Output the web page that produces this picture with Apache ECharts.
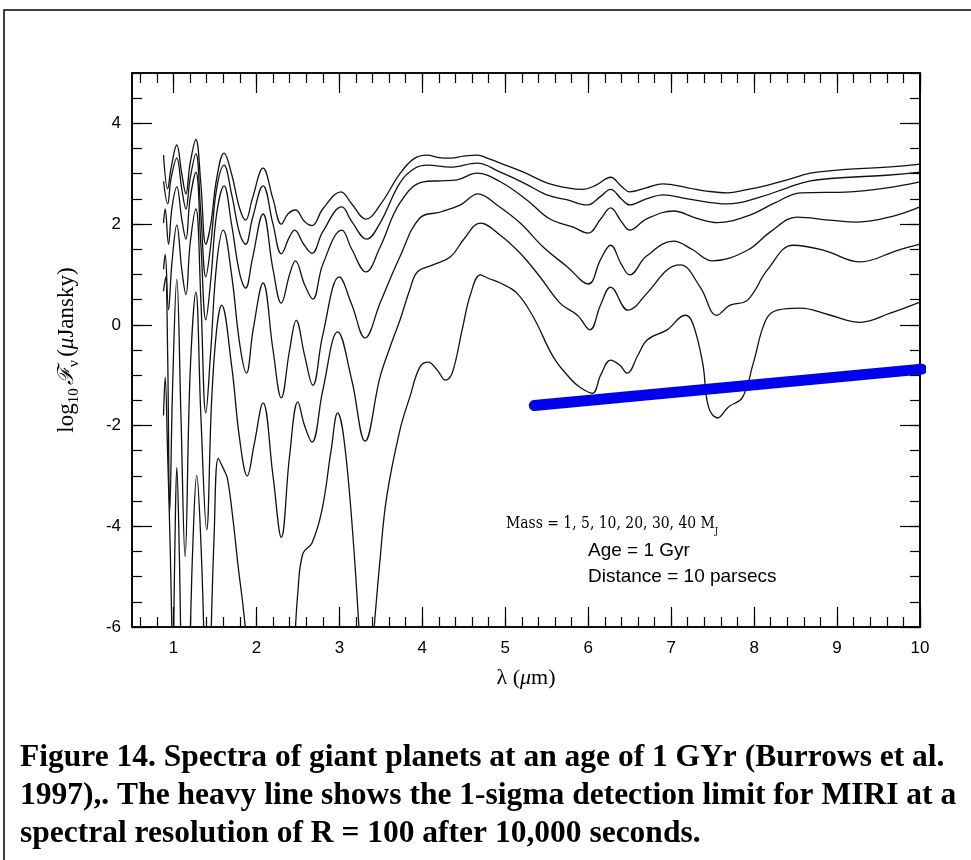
<!DOCTYPE html>
<html>
<head>
<meta charset="UTF-8">
<title>Spectra of giant planets at 1 Gyr</title>
<script src="https://cdn.jsdelivr.net/npm/echarts@6/dist/echarts.min.js"></script>
<style>
  html, body { margin: 0; padding: 0; background: #fff; }
  #chart { width: 971px; height: 860px; }
</style>
</head>
<body>
<div id="chart"></div>
<script>
// wavelength (micron), log10 flux (microJansky)
var m40 = [[0.88,3.37],[0.93,2.7],[0.97,3.1],[1.04,3.57],[1.1,3.0],[1.15,2.6],[1.2,3.2],[1.27,3.68],[1.33,2.8],[1.39,1.6],[1.45,2.0],[1.52,2.9],[1.61,3.41],[1.7,3.0],[1.8,2.3],[1.87,2.08],[1.95,2.5],[2.08,3.11],[2.2,2.5],[2.3,2.0],[2.38,2.2],[2.47,2.28],[2.58,2.05],[2.67,1.97],[2.8,2.3],[3.02,2.64],[3.15,2.4],[3.32,2.1],[3.5,2.4],[3.73,3.0],[3.9,3.3],[4.06,3.37],[4.2,3.32],[4.34,3.31],[4.5,3.35],[4.66,3.37],[4.8,3.3],[4.94,3.21],[5.22,3.03],[5.5,2.82],[5.75,2.72],[5.94,2.69],[6.1,2.78],[6.27,2.93],[6.4,2.75],[6.5,2.64],[6.7,2.72],[6.9,2.8],[7.2,2.72],[7.45,2.65],[7.68,2.62],[7.9,2.68],[8.08,2.74],[8.4,2.88],[8.68,3.01],[9.16,3.09],[9.6,3.13],[10,3.19]];
var m30 = [[0.88,2.85],[0.93,2.4],[0.97,2.9],[1.04,3.31],[1.1,2.7],[1.15,2.3],[1.2,2.9],[1.27,3.4],[1.33,2.2],[1.39,0.95],[1.45,1.6],[1.52,2.7],[1.61,3.17],[1.7,2.6],[1.8,1.8],[1.87,1.6],[1.95,2.1],[2.08,2.76],[2.2,2.0],[2.3,1.41],[2.4,1.75],[2.46,1.88],[2.57,1.6],[2.67,1.42],[2.8,1.85],[3.03,2.34],[3.15,2.05],[3.33,1.7],[3.49,2.02],[3.73,2.82],[3.9,3.1],[4.06,3.17],[4.34,3.13],[4.66,3.21],[4.94,3.03],[5.22,2.82],[5.5,2.58],[5.75,2.48],[5.99,2.38],[6.15,2.55],[6.27,2.69],[6.4,2.5],[6.5,2.38],[6.7,2.5],[6.9,2.58],[7.2,2.5],[7.68,2.4],[8.08,2.54],[8.4,2.72],[8.68,2.86],[9.16,2.93],[9.6,2.97],[10,3.03]];
var m20 = [[0.88,2.02],[0.9,2.3],[0.94,1.6],[0.98,2.3],[1.04,2.74],[1.1,2.1],[1.15,1.7],[1.2,2.5],[1.27,3.03],[1.33,1.6],[1.39,0.1],[1.45,0.9],[1.52,2.2],[1.61,2.76],[1.7,2.0],[1.8,1.0],[1.87,0.73],[1.95,1.3],[2.08,2.2],[2.2,1.1],[2.3,0.43],[2.4,1.0],[2.47,1.27],[2.58,0.8],[2.68,0.51],[2.8,1.2],[3.03,1.88],[3.15,1.5],[3.32,1.05],[3.49,1.54],[3.73,2.42],[4.01,2.84],[4.22,2.86],[4.42,2.88],[4.66,3.01],[4.94,2.84],[5.26,2.48],[5.54,2.1],[5.82,1.94],[6.0,1.82],[6.15,2.1],[6.27,2.32],[6.4,2.05],[6.5,1.88],[6.7,2.1],[7.03,2.26],[7.3,2.12],[7.56,2.03],[7.95,2.18],[8.25,2.42],[8.56,2.62],[9.16,2.64],[9.6,2.72],[10,2.84]];
var m10 = [[0.88,1.1],[0.9,1.4],[0.94,0.3],[0.98,1.2],[1.04,1.98],[1.1,1.1],[1.15,0.6],[1.2,1.6],[1.27,2.3],[1.33,0.5],[1.39,-1.75],[1.45,-0.5],[1.52,1.2],[1.6,1.88],[1.7,1.0],[1.8,-0.4],[1.88,-0.96],[1.96,-0.1],[2.08,0.83],[2.2,-0.5],[2.3,-1.45],[2.4,-0.5],[2.48,0.09],[2.58,-0.6],[2.68,-1.2],[2.8,-0.2],[3.0,0.95],[3.15,0.4],[3.31,-0.26],[3.49,0.43],[3.73,1.35],[3.97,2.12],[4.22,2.24],[4.46,2.38],[4.67,2.6],[4.9,2.38],[5.18,2.02],[5.46,1.54],[5.75,1.15],[6.0,0.81],[6.15,1.3],[6.27,1.58],[6.4,1.2],[6.5,0.99],[6.7,1.36],[7.03,1.66],[7.25,1.5],[7.5,1.27],[7.92,1.48],[8.2,1.85],[8.52,2.14],[8.9,2.08],[9.25,2.04],[9.68,2.16],[10,2.34]];
var m5 = [[0.88,0.67],[0.905,0.95],[0.93,-0.6],[0.955,-3.7],[0.99,-1.2],[1.04,0.9],[1.09,-1.8],[1.14,-4.6],[1.2,-1.0],[1.27,0.65],[1.33,-1.8],[1.4,-4.07],[1.46,-1.5],[1.52,-0.1],[1.58,0.39],[1.7,-0.8],[1.8,-2.3],[1.89,-3.0],[1.97,-2.4],[2.08,-1.55],[2.2,-3.0],[2.3,-4.22],[2.4,-2.6],[2.5,-1.53],[2.58,-2.0],[2.67,-2.33],[2.8,-1.3],[2.98,-0.14],[3.15,-1.1],[3.31,-2.31],[3.49,-1.04],[3.62,-0.4],[3.73,0.09],[3.85,0.7],[3.94,1.05],[4.13,1.19],[4.34,1.35],[4.5,1.7],[4.7,2.02],[4.94,1.78],[5.18,1.42],[5.42,0.95],[5.66,0.43],[5.87,0.19],[6.02,-0.1],[6.15,0.4],[6.27,0.75],[6.48,0.29],[6.71,0.63],[6.95,1.09],[7.11,1.19],[7.35,0.75],[7.55,0.19],[7.71,0.39],[7.92,0.49],[8.16,1.09],[8.47,1.58],[8.84,1.48],[9.28,1.25],[9.73,1.48],[10,1.6]];
var m1 = [[0.88,-1.8],[0.9,-1.04],[0.93,-2.6],[0.96,-4.4],[0.985,-6.4],null,
  [1.0,-6.4],[1.02,-4.1],[1.04,-2.83],[1.065,-4.1],[1.09,-6.4],null,
  [1.2,-6.4],[1.235,-4.3],[1.28,-2.99],[1.33,-4.3],[1.37,-6.4],null,
  [1.45,-6.4],[1.49,-4.2],[1.54,-2.65],[1.6,-2.85],[1.65,-3.05],[1.72,-3.9],[1.78,-4.8],[1.84,-5.6],[1.89,-6.4],null,
  [2.46,-6.4],[2.5,-5.3],[2.56,-4.54],[2.67,-4.33],[2.79,-3.68],[2.9,-2.5],[2.98,-1.75],[3.05,-2.2],[3.15,-3.9],[3.25,-6.4],null,
  [3.4,-6.4],[3.49,-4.67],[3.57,-3.42],[3.73,-2.09],[3.85,-1.43],[3.97,-0.84],[4.07,-0.74],[4.18,-0.9],[4.28,-1.1],[4.36,-0.96],[4.48,-0.1],[4.58,0.6],[4.7,0.99],[4.8,0.92],[4.94,0.83],[5.14,0.63],[5.34,0.15],[5.58,-0.64],[5.78,-1.06],[5.9,-1.24],[6.05,-1.36],[6.15,-1.0],[6.27,-0.7],[6.38,-0.8],[6.47,-0.96],[6.6,-0.6],[6.71,-0.3],[6.95,-0.1],[7.17,0.19],[7.26,0.03],[7.38,-0.76],[7.45,-1.63],[7.56,-1.85],[7.69,-1.63],[7.86,-1.44],[7.99,-0.76],[8.14,0.09],[8.28,0.29],[8.56,0.33],[8.9,0.2],[9.28,0.05],[9.64,0.23],[10,0.45]];
// MIRI 1-sigma detection limit (heavy line)
var miriLimit = [[5.35,-1.6],[10.02,-0.88]];

var xLabels = [1, 2, 3, 4, 5, 6, 7, 8, 9, 10];
var yLabels = [-6, -4, -2, 0, 2, 4];

var xMinor = [];
for (var i = 3; i <= 50; i++) { xMinor.push(Math.round(i * 2) / 10); }
var yMinor = [];
for (var j = -12; j <= 10; j++) { yMinor.push(j / 2); }

var chart = echarts.init(document.getElementById('chart'));

function axisDef(dim, pos, ticks, len, labels) {
  return {
    type: 'value', position: pos,
    min: dim === 'x' ? 0.5 : -6, max: dim === 'x' ? 10 : 5,
    axisLine: { show: true, onZero: false, lineStyle: { color: '#000', width: 1.6 } },
    axisTick: { show: true, inside: true, length: len, customValues: ticks, lineStyle: { color: '#000', width: 1.2 } },
    axisLabel: labels ? { show: true, customValues: ticks, margin: dim === 'x' ? 13 : 11, color: '#000', fontFamily: 'Liberation Sans', fontSize: 17 } : { show: false },
    splitLine: { show: false }
  };
}

var xAxes = [
  axisDef('x', 'bottom', xLabels, 20, true),
  axisDef('x', 'bottom', xMinor, 10, false),
  axisDef('x', 'top', xLabels, 20, false),
  axisDef('x', 'top', xMinor, 10, false)
];
xAxes[0].name = '{n|λ (}{i|μ}{n|m)}';
xAxes[0].nameLocation = 'middle';
xAxes[0].nameGap = 40;
xAxes[0].nameTextStyle = {
  rich: {
    n: { fontFamily: 'Liberation Serif', fontSize: 22, color: '#000' },
    i: { fontFamily: 'Liberation Serif', fontStyle: 'italic', fontSize: 22, color: '#000' }
  }
};

var yAxes = [
  axisDef('y', 'left', yLabels, 20, true),
  axisDef('y', 'left', yMinor, 10, false),
  axisDef('y', 'right', yLabels, 20, false),
  axisDef('y', 'right', yMinor, 10, false)
];
yAxes[0].name = '{n|log}{s|10} {f|ℱ}{s|ν} {n|(}{i|μ}{n|Jansky)}';
yAxes[0].nameLocation = 'middle';
yAxes[0].nameGap = 50;
yAxes[0].nameRotate = 90;
yAxes[0].nameTextStyle = {
  rich: {
    n: { fontFamily: 'Liberation Serif', fontSize: 23, color: '#000', lineHeight: 30, verticalAlign: 'middle' },
    i: { fontFamily: 'Liberation Serif', fontStyle: 'italic', fontSize: 23, color: '#000', lineHeight: 30, verticalAlign: 'middle' },
    f: { fontFamily: 'DejaVu Serif', fontStyle: 'italic', fontSize: 22, color: '#000', lineHeight: 30, verticalAlign: 'middle' },
    s: { fontFamily: 'Liberation Serif', fontSize: 15, color: '#000', lineHeight: 30, verticalAlign: 'bottom' }
  }
};

function spectrum(name, data) {
  return {
    name: name, type: 'line', xAxisIndex: 0, yAxisIndex: 0,
    data: data, smooth: 0.4, symbol: 'none', connectNulls: false,
    lineStyle: { color: '#111', width: 1.3 },
    silent: true
  };
}

var option = {
  animation: false,
  backgroundColor: '#fff',
  grid: { left: 132, right: 51, top: 73, bottom: 233 },
  xAxis: xAxes,
  yAxis: yAxes,
  series: [
    spectrum('40 MJ', m40),
    spectrum('30 MJ', m30),
    spectrum('20 MJ', m20),
    spectrum('10 MJ', m10),
    spectrum('5 MJ', m5),
    spectrum('1 MJ', m1),
    {
      name: 'MIRI limit', type: 'line', data: miriLimit, symbol: 'none', clip: false, z: 5,
      lineStyle: { color: '#0000ee', width: 11, cap: 'round' }, silent: true
    }
  ],
  graphic: [
    { type: 'rect', shape: { x: 4, y: 10, width: 1000, height: 900 }, style: { fill: 'none', stroke: '#000', lineWidth: 1.5 } },
    {
      type: 'text', x: 506, y: 524, scaleX: 0.87,
      style: {
        text: '{m|Mass = 1, 5, 10, 20, 30, 40 M}{j|J}',
        verticalAlign: 'middle',
        rich: {
          m: { fontFamily: 'DejaVu Serif', fontSize: 16, fill: '#000', lineHeight: 24, verticalAlign: 'middle' },
          j: { fontFamily: 'DejaVu Serif', fontSize: 10, fill: '#000', lineHeight: 24, verticalAlign: 'bottom' }
        }
      }
    },
    { type: 'text', left: 588, top: 541, style: { text: 'Age = 1 Gyr', font: '19px "Liberation Sans"', fill: '#000' } },
    { type: 'text', left: 588, top: 567, style: { text: 'Distance = 10 parsecs', font: '19px "Liberation Sans"', fill: '#000' } },
    {
      type: 'text', left: 20, top: 739,
      style: {
        text: 'Figure 14. Spectra of giant planets at an age of 1 GYr (Burrows et al.\n1997),. The heavy line shows the 1-sigma detection limit for MIRI at a\nspectral resolution of R = 100 after 10,000 seconds.',
        font: 'bold 31.5px "Liberation Serif"', lineHeight: 38, fill: '#000'
      }
    }
  ]
};

chart.setOption(option);
</script>
</body>
</html>
